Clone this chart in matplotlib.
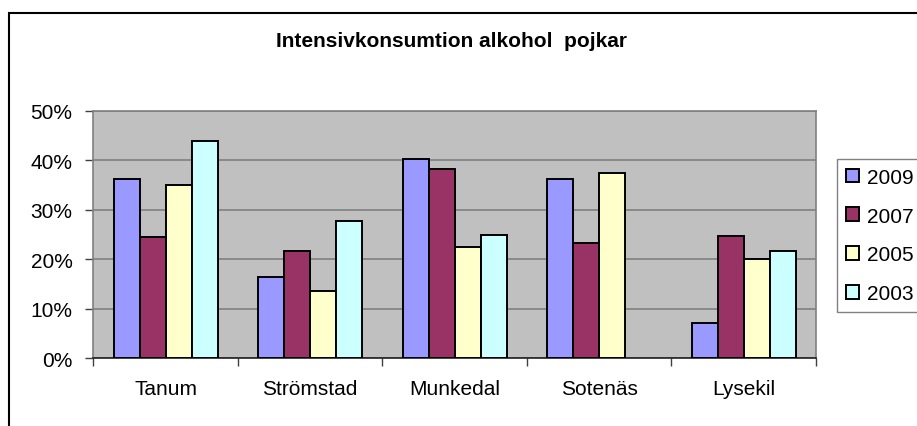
import numpy as np
import matplotlib.pyplot as plt
from matplotlib.patches import Rectangle

plt.rcParams['font.family'] = ['Liberation Sans', 'DejaVu Sans']

kommuner = ["Tanum", "Strömstad", "Munkedal", "Sotenäs", "Lysekil"]
years = ["2009", "2007", "2005", "2003"]
v2009 = [36.3, 16.4, 40.2, 36.3, 7.1]
v2007 = [24.5, 21.7, 38.3, 23.3, 24.6]
v2005 = [35.0, 13.6, 22.5, 37.5, 20.1]
v2003 = [43.9, 27.7, 25.0, np.nan, 21.7]
colors = ["#9999FF", "#993366", "#FFFFCC", "#CCFFFF"]

W, H = 917, 427
fig = plt.figure(figsize=(W / 100, H / 100), dpi=100)
ax = fig.add_axes([93.3 / W, (H - 359.3) / H, (816 - 93.3) / W, (359.3 - 111.7) / H])
ax.set_facecolor("#C0C0C0")

x = np.arange(len(kommuner))
bw = 0.18
for i, (vals, c, yr) in enumerate(zip([v2009, v2007, v2005, v2003], colors, years)):
    ax.bar(x + (i - 1.5) * bw, vals, bw, color=c, edgecolor="black",
           linewidth=1.4, label=yr, zorder=3)

ax.set_xlim(-0.5, len(kommuner) - 0.5)
ax.set_ylim(0, 50)
ax.set_yticks(np.arange(0, 51, 10))
ax.set_yticklabels([f"{v}%" for v in range(0, 51, 10)])
ax.set_xticks(x)
ax.set_xticklabels(kommuner)
ax.set_xticks(np.arange(-0.5, len(kommuner)), minor=True)
ax.tick_params(axis="x", which="major", length=0, pad=15, labelsize=15)
ax.tick_params(axis="x", which="minor", length=6, width=1, color="#404040")
ax.tick_params(axis="y", length=6, width=1, pad=9, labelsize=15, color="#404040")
ax.yaxis.grid(True, color="#808080", linewidth=1.2, zorder=0)
ax.set_axisbelow(True)
for s in ["top", "right", "left"]:
    ax.spines[s].set_color("#808080")
    ax.spines[s].set_linewidth(1.2)
ax.spines["bottom"].set_color("#202020")
ax.spines["bottom"].set_linewidth(1.2)

fig.text(452 / W, (H - 47) / H, "Intensivkonsumtion alkohol  pojkar",
         ha="center", va="baseline", fontsize=15, fontweight="bold")

leg = ax.legend(loc="upper left", bbox_to_anchor=(837 / W, (H - 160) / H),
                bbox_transform=fig.transFigure, fontsize=15, frameon=True,
                fancybox=False, edgecolor="#808080", framealpha=1,
                handlelength=0.62, handleheight=0.62, handletextpad=0.38,
                labelspacing=0.95, borderaxespad=0, borderpad=0.42)
leg.get_frame().set_linewidth(1.0)

fig.patches.append(Rectangle((9 / W, -0.1), 1.2, (H - 14) / H + 0.1,
                             transform=fig.transFigure, fill=False,
                             edgecolor="black", linewidth=1.5))

fig.savefig("out.png", dpi=100)
